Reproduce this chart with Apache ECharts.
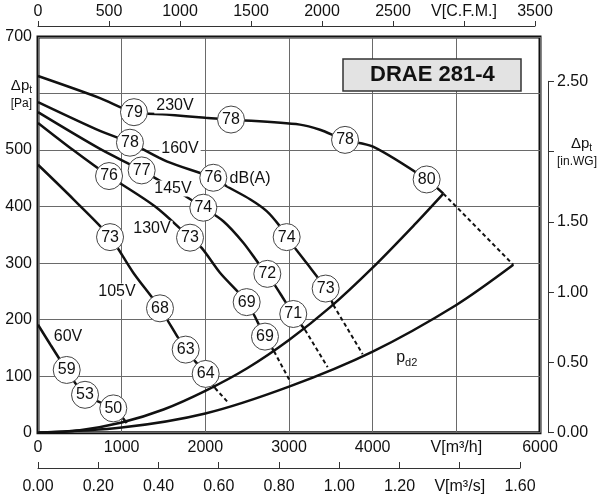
<!DOCTYPE html>
<html lang="ru">
<head>
    <meta charset="UTF-8">
    <title>DRAE 281-4</title>
    <script src="https://cdn.jsdelivr.net/npm/echarts@6/dist/echarts.min.js"></script>
    <style>
        * { margin: 0; padding: 0; box-sizing: border-box; }
        body { background: #fff; }
        #chart { width: 600px; height: 500px; }
    </style>
</head>
<body>
    <div id="chart"></div>
    <script>
        // fan curves, [V m3/h, dpt Pa]
        const curve230 = [[0, 631], [741, 592], [1147, 567], [1538, 563], [2000, 557], [2307, 554], [3131, 545], [3370, 536], [3670, 518], [4004, 506], [4645, 448], [4845, 423]];
        const curve160 = [[0, 585], [741, 534], [1099, 513], [1538, 480], [2095, 451], [2255, 436], [2534, 413], [2733, 392], [2892, 365], [2972, 346], [3211, 300], [3438, 255], [3530, 226]];
        const curve145 = [[0, 567], [741, 502], [1239, 464], [1700, 424], [1976, 398], [2215, 374], [2454, 336], [2653, 296], [2741, 281], [2900, 245], [3051, 210], [3191, 182]];
        const curve130 = [[0, 548], [420, 500], [849, 454], [1400, 400], [1817, 345], [1956, 327], [2175, 283], [2494, 231], [2713, 170], [2821, 144]];
        const curve105 = [[0, 474], [430, 412], [861, 346], [1139, 283], [1458, 220], [1765, 147], [2004, 104], [2115, 79]];
        const curve60 = [[0, 191], [343, 111], [562, 67], [900, 43], [1060, 17]];

        // dashed continuation down to pd2
        const dash230 = [[4845, 423], [5681, 297]];
        const dash160 = [[3530, 226], [3880, 139]];
        const dash145 = [[3191, 182], [3462, 116]];
        const dash130 = [[2821, 144], [3020, 89]];
        const dash105 = [[2115, 79], [2275, 53]];

        // system curves
        const sysUpper = [[0, 0], [500, 4.5], [1000, 18], [1500, 41], [2000, 74], [2500, 114], [3000, 164], [3500, 223], [4000, 292], [4500, 368], [4845, 423]];
        const sysPd2 = [[0, 0], [1000, 9], [2000, 34], [3000, 81.5], [4000, 143.5], [5000, 226], [5681, 297]];

        // noise levels dB(A) on the curves, [V, dpt, dB]
        const dots230 = [[1147, 567, 79], [2307, 554, 78], [3670, 518, 78], [4645, 448, 80]];
        const dots160 = [[1099, 513, 78], [2095, 451, 76], [2972, 346, 74], [3438, 255, 73]];
        const dots145 = [[1239, 464, 77], [1976, 398, 74], [2741, 281, 72], [3051, 210, 71]];
        const dots130 = [[849, 454, 76], [1817, 345, 73], [2494, 231, 69], [2713, 170, 69]];
        const dots105 = [[861, 346, 73], [1458, 220, 68], [1765, 147, 63], [2004, 104, 64]];
        const dots60 = [[343, 111, 59], [562, 67, 53], [900, 43, 50]];

        const curveLabels = [[1637, 579, '230V'], [1697, 503, '160V'], [2534, 450, 'dB(A)'], [1613, 432, '145V'], [1362, 361, '130V'], [944, 250, '105V'], [359, 170, '60V']];
        const pd2Label = [[4407, 132, 'pd2']];

        const font = "'Liberation Sans', Arial, sans-serif";
        const ink = '#111';

        const chart = echarts.init(document.getElementById('chart'));

        function curve(data, dashed) {
            return {
                type: 'line', xAxisIndex: 0, yAxisIndex: 0, data: data,
                smooth: dashed ? false : 0.3, showSymbol: false, silent: true, z: 3,
                lineStyle: { color: '#111', width: dashed ? 2 : 2.5, type: dashed ? [4, 3] : 'solid' }
            };
        }

        function dots(data) {
            return {
                type: 'scatter', xAxisIndex: 0, yAxisIndex: 0, data: data, symbolSize: 27, z: 5, silent: true,
                itemStyle: { color: '#fff', borderColor: '#444', borderWidth: 1, opacity: 1 },
                label: { show: true, position: 'inside', formatter: p => p.value[2], fontSize: 16, color: ink, fontFamily: font }
            };
        }

        const dpRich = {
            d: { fontSize: 15, lineHeight: 20, color: ink, fontFamily: font },
            s: { fontSize: 10, lineHeight: 10, verticalAlign: 'bottom', color: ink, fontFamily: font },
            u: { fontSize: 12, lineHeight: 16, color: ink, fontFamily: font },
            r: { fontSize: 15, lineHeight: 20, color: ink, fontFamily: font, padding: [0, 0, 0, 14] }
        };

        chart.setOption({
            animation: false,
            title: {
                text: 'DRAE 281-4', left: 343, top: 59, padding: [5, 27],
                backgroundColor: '#e3e3e3', borderColor: '#333', borderWidth: 1.5,
                textStyle: { fontSize: 22, fontWeight: 'bold', color: '#111', fontFamily: font }
            },
            grid: [
                { left: 38, right: 60, top: 37, bottom: 67.3, show: true, borderWidth: 3, borderColor: '#111' },
                { left: 38, right: 65, top: 26, height: 10 },
                { left: 38, right: 80, top: 440, bottom: 32 },
                { left: 545, right: 49, top: 81.3, bottom: 67.3 }
            ],
            xAxis: [
                {
                    gridIndex: 0, type: 'value', min: 0, max: 6000, interval: 1000,
                    axisLine: { show: false }, axisTick: { show: false },
                    splitLine: { lineStyle: { color: '#6a6a6a', width: 1 } },
                    axisLabel: { margin: 7, fontSize: 16, color: ink, fontFamily: font,
                        formatter: v => v === 5000 ? 'V[m³/h]' : v }
                },
                {
                    gridIndex: 1, type: 'value', position: 'top', min: 0, max: 3500, interval: 500,
                    axisLine: { onZero: false, lineStyle: { color: '#333', width: 1 } },
                    axisTick: { length: 5, lineStyle: { color: '#333' } },
                    splitLine: { show: false },
                    axisLabel: { margin: 6, fontSize: 16, color: ink, fontFamily: font,
                        formatter: v => v === 3000 ? 'V[C.F.M.]' : v }
                },
                {
                    gridIndex: 2, type: 'value', position: 'bottom', min: 0, max: 1.6, interval: 0.2,
                    axisLine: { onZero: false, lineStyle: { color: '#333', width: 1 } },
                    axisTick: { inside: true, length: 6, lineStyle: { color: '#333' } },
                    splitLine: { show: false },
                    axisLabel: { margin: 11, fontSize: 16, color: ink, fontFamily: font,
                        formatter: v => Math.abs(v - 1.4) < 1e-6 ? 'V[m³/s]' : v.toFixed(2) }
                },
                { gridIndex: 3, type: 'value', show: false }
            ],
            yAxis: [
                {
                    gridIndex: 0, type: 'value', min: 0, max: 700, interval: 100,
                    axisLine: { show: false }, axisTick: { show: false },
                    splitLine: { lineStyle: { color: '#6a6a6a', width: 1 } },
                    axisLabel: { margin: 6, fontSize: 16, color: ink, fontFamily: font, rich: dpRich,
                        formatter: v => v === 600 ? '{d|Δp}{s|t}\n{u|[Pa]}' : v }
                },
                { gridIndex: 1, type: 'value', show: false },
                { gridIndex: 2, type: 'value', show: false },
                {
                    gridIndex: 3, type: 'value', position: 'right', min: 0, max: 2.5, interval: 0.5,
                    axisLine: { show: true, onZero: false, lineStyle: { color: '#333', width: 1 } },
                    axisTick: { show: true, length: 6, lineStyle: { color: '#333' } },
                    splitLine: { show: false },
                    axisLabel: { margin: 9, fontSize: 16, color: ink, fontFamily: font, rich: dpRich,
                        formatter: v => Math.abs(v - 2) < 1e-6 ? '{r|Δp}{s|t}\n{u|[in.WG]}' : v.toFixed(2) }
                }
            ],
            series: [
                curve(sysUpper), curve(sysPd2),
                curve(curve230), curve(curve160), curve(curve145),
                curve(curve130), curve(curve105), curve(curve60),
                curve(dash230, true), curve(dash160, true), curve(dash145, true),
                curve(dash130, true), curve(dash105, true),
                dots(dots230), dots(dots160), dots(dots145),
                dots(dots130), dots(dots105), dots(dots60),
                {
                    type: 'scatter', data: curveLabels, symbolSize: 0, z: 4, silent: true,
                    itemStyle: { opacity: 1 },
                    label: { show: true, position: 'inside', formatter: p => p.value[2],
                        fontSize: 16, color: ink, fontFamily: font, backgroundColor: '#fff', padding: [0, 2] }
                },
                {
                    type: 'scatter', data: pd2Label, symbolSize: 0, z: 4, silent: true,
                    itemStyle: { opacity: 1 },
                    label: { show: true, position: 'inside', formatter: '{p|p}{s|d2}',
                        rich: {
                            p: { fontSize: 16, lineHeight: 20, color: ink, fontFamily: font },
                            s: { fontSize: 11, lineHeight: 11, verticalAlign: 'bottom', color: ink, fontFamily: font }
                        } }
                }
            ]
        });
    </script>
</body>
</html>
